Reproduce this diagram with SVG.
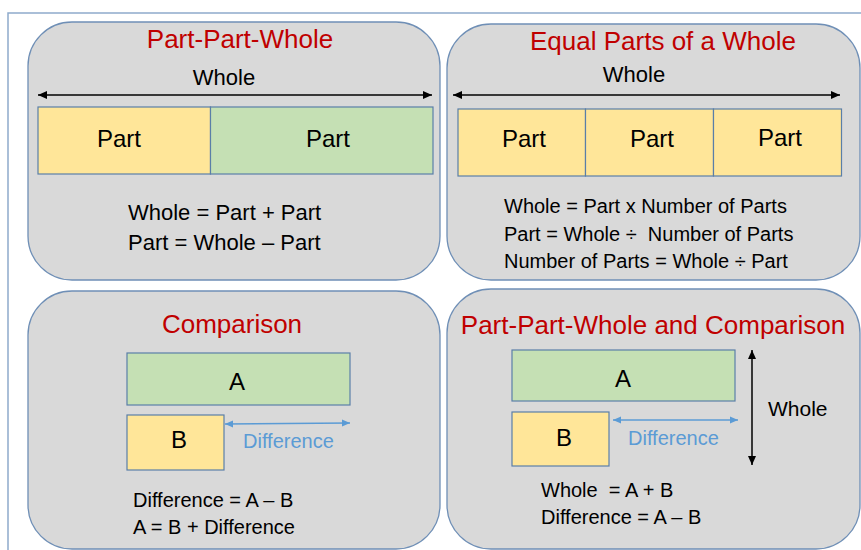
<svg xmlns="http://www.w3.org/2000/svg" width="861" height="550" viewBox="0 0 861 550">
  <style>
    text { font-family: "Liberation Sans", Arial, sans-serif; fill: #000; white-space: pre; }
    .title { font-size: 26px; fill: #c00000; text-anchor: middle; }
    .panel { fill: #d9d9d9; stroke: #6f8fb6; stroke-width: 1.3; }
    .yellow { fill: #ffe699; stroke: #5a7fa8; stroke-width: 1.2; }
    .green { fill: #c5e0b4; stroke: #5a7fa8; stroke-width: 1.2; }
    .lbl { font-size: 24px; text-anchor: middle; }
    .f22 { font-size: 22px; }
    .f20 { font-size: 20px; }
    .blue { fill: #5b9bd5; }
    .blk { stroke: #000; stroke-width: 1.5; fill: none; }
    .bl { stroke: #5b9bd5; stroke-width: 1.5; fill: none; }
  </style>
  <defs>
    <marker id="ah" markerUnits="userSpaceOnUse" markerWidth="10" markerHeight="10" refX="9" refY="5" orient="auto-start-reverse">
      <path d="M0,1 L9,5 L0,9 Z" fill="#000"/>
    </marker>
    <marker id="ahb" markerUnits="userSpaceOnUse" markerWidth="9" markerHeight="9" refX="8" refY="4.5" orient="auto-start-reverse">
      <path d="M0,1 L8,4.5 L0,8 Z" fill="#5b9bd5"/>
    </marker>
  </defs>
  <rect x="0" y="0" width="861" height="550" fill="#fff"/>
  <rect x="8" y="13" width="900" height="600" fill="none" stroke="#8eaacc" stroke-width="1.5"/>

  <g id="panel-ppw">
    <rect class="panel" x="28" y="22" width="412" height="258" rx="44"/>
    <text class="title" x="240" y="48">Part-Part-Whole</text>
    <text class="f22" x="224" y="85" text-anchor="middle">Whole</text>
    <rect class="yellow" x="38" y="107" width="172.5" height="67"/>
    <rect class="green" x="210.5" y="107" width="222.5" height="67"/>
    <text class="lbl" x="119" y="147">Part</text>
    <text class="lbl" x="328" y="147">Part</text>
    <text class="f22" x="128" y="220">Whole = Part + Part</text>
    <text class="f22" x="128" y="250">Part = Whole – Part</text>
  </g>

  <g id="panel-equal">
    <rect class="panel" x="447" y="24" width="413" height="256" rx="44"/>
    <text class="title" x="663" y="50">Equal Parts of a Whole</text>
    <text class="f22" x="634" y="82" text-anchor="middle">Whole</text>
    <rect class="yellow" x="458" y="109" width="127.5" height="67"/>
    <rect class="yellow" x="585.5" y="109" width="128" height="67"/>
    <rect class="yellow" x="713.5" y="109" width="128" height="67"/>
    <text class="lbl" x="524" y="147">Part</text>
    <text class="lbl" x="652" y="147">Part</text>
    <text class="lbl" x="780" y="146">Part</text>
    <text class="f20" x="504" y="213">Whole = Part x Number of Parts</text>
    <text class="f20" x="504" y="241">Part = Whole ÷  Number of Parts</text>
    <text class="f20" x="504" y="268">Number of Parts = Whole ÷ Part</text>
  </g>

  <g id="panel-comparison">
    <rect class="panel" x="28" y="291" width="412" height="258" rx="44"/>
    <text class="title" x="232" y="333">Comparison</text>
    <rect class="green" x="127" y="353" width="223" height="52"/>
    <rect class="yellow" x="127" y="415" width="97" height="55"/>
    <text class="lbl" x="237" y="390">A</text>
    <text class="lbl" x="179" y="448">B</text>
    <text class="f20 blue" x="243" y="448">Difference</text>
    <text class="f20" x="133" y="507">Difference = A – B</text>
    <text class="f20" x="133" y="534">A = B + Difference</text>
  </g>

  <g id="panel-ppw-comparison">
    <rect class="panel" x="447" y="289" width="413" height="260" rx="44"/>
    <text class="title" x="653" y="334">Part-Part-Whole and Comparison</text>
    <rect class="green" x="512" y="350" width="223" height="51"/>
    <rect class="yellow" x="512" y="412" width="97" height="54"/>
    <text class="lbl" x="623" y="387">A</text>
    <text class="lbl" x="564" y="446">B</text>
    <text class="f20 blue" x="628" y="445">Difference</text>
    <text class="f20" x="768" y="416" style="font-size:21px">Whole</text>
    <text class="f20" x="541" y="497">Whole  = A + B</text>
    <text class="f20" x="541" y="524">Difference = A – B</text>
  </g>

  <g id="connectors">
    <line class="blk" x1="38" y1="95" x2="432" y2="95" marker-start="url(#ah)" marker-end="url(#ah)"/>
    <line class="blk" x1="453" y1="95" x2="840" y2="95" marker-start="url(#ah)" marker-end="url(#ah)"/>
    <line class="bl" x1="225" y1="424" x2="350" y2="423" marker-start="url(#ahb)" marker-end="url(#ahb)"/>
    <line class="bl" x1="613" y1="420" x2="738" y2="420" marker-start="url(#ahb)" marker-end="url(#ahb)"/>
    <line class="blk" x1="752" y1="350" x2="752" y2="465" marker-start="url(#ah)" marker-end="url(#ah)"/>
  </g>
</svg>
